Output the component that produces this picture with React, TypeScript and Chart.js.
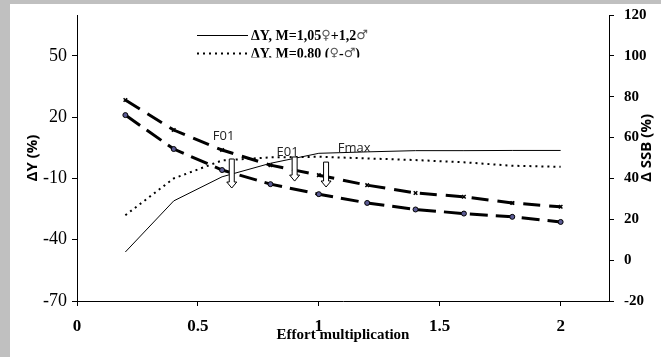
import React, { useEffect, useRef } from "react";
import { Chart, registerables } from "chart.js";

Chart.register(...registerables);

// ---- data ----
const effort = [0.2, 0.4, 0.6, 0.8, 1.0, 1.2, 1.4, 1.6, 1.8, 2.0];
const dY_M105 = [-46, -21, -9.2, -2.6, 2.3, 3.0, 3.6, 3.6, 3.7, 3.7];
const dY_M080 = [-28, -10, -1.2, 0.3, 0.6, -0.2, -1.0, -2.1, -3.8, -4.3];
const dSSB_circle = [71, 54.4, 44.1, 37.2, 32.3, 28, 24.8, 22.8, 21.2, 18.7];
const dSSB_cross = [78.4, 63.7, 53.9, 46.5, 41.6, 36.7, 32.9, 31, 28, 26.1];

const xTicks = [0, 0.5, 1, 1.5, 2];
const leftTicks = [-70, -40, -10, 20, 50];
const rightTicks = [-20, 0, 20, 40, 60, 80, 100, 120];

const legendLabels = ["ΔY, M=1,05♀+1,2♂", "ΔY, M=0.80 (♀-♂)"];
const rightAxisTitle = "Δ SSB (%)";

const refLabels = ["F01", "E01", "Fmax"];
const refLabelX = [0.606, 0.871, 1.146];
const refLabelY = [10.4, 2.6, 4.7];

const arrowX = [0.64, 0.9, 1.03];
const arrowTop = [-0.5, 0.5, -2];
const arrowBottom = [-14.7, -11.3, -14.2];

const pts = (ys: number[]) => effort.map((x, i) => ({ x, y: ys[i] }));

const SERIF = "'Liberation Serif', 'Times New Roman', serif";
const SANS = "'Open Sans', 'DejaVu Sans', sans-serif";

const annotationPlugin = {
  id: "annotations",
  afterDatasetsDraw(chart: any) {
    const ctx = chart.ctx;
    const xs = chart.scales.x;
    const ys = chart.scales.y;
    ctx.save();
    for (let i = 0; i < arrowX.length; i++) {
      const cx = xs.getPixelForValue(arrowX[i]);
      const top = ys.getPixelForValue(arrowTop[i]);
      const bot = ys.getPixelForValue(arrowBottom[i]);
      const sw = 2.5;
      const hw = 5;
      const hl = 6;
      ctx.beginPath();
      ctx.moveTo(cx - sw, top);
      ctx.lineTo(cx + sw, top);
      ctx.lineTo(cx + sw, bot - hl);
      ctx.lineTo(cx + hw, bot - hl);
      ctx.lineTo(cx, bot);
      ctx.lineTo(cx - hw, bot - hl);
      ctx.lineTo(cx - sw, bot - hl);
      ctx.closePath();
      ctx.fillStyle = "#fff";
      ctx.fill();
      ctx.lineWidth = 1;
      ctx.strokeStyle = "#000";
      ctx.setLineDash([]);
      ctx.stroke();
    }
    ctx.font = `13px ${SANS}`;
    ctx.fillStyle = "#222";
    ctx.textAlign = "center";
    ctx.textBaseline = "middle";
    for (let i = 0; i < refLabels.length; i++) {
      ctx.fillText(
        refLabels[i],
        xs.getPixelForValue(refLabelX[i]),
        ys.getPixelForValue(refLabelY[i])
      );
    }
    ctx.restore();
  },
  afterDraw(chart: any) {
    const ctx = chart.ctx;
    const area = chart.chartArea;
    // right axis title, reading bottom-to-top
    ctx.save();
    ctx.translate(chart.width - 14, (area.top + area.bottom) / 2 - 10);
    ctx.rotate(-Math.PI / 2);
    ctx.font = `bold 15px ${SANS}`;
    ctx.fillStyle = "#000";
    ctx.textAlign = "center";
    ctx.textBaseline = "middle";
    ctx.fillText(rightAxisTitle, 0, 0);
    ctx.restore();

    // legend
    ctx.save();
    ctx.beginPath();
    ctx.rect(0, 0, chart.width, 53.5);
    ctx.clip();
    const rows = [
      { y: 31.5, ds: chart.data.datasets[0] },
      { y: 49.5, ds: chart.data.datasets[1] },
    ];
    rows.forEach((r, i) => {
      ctx.beginPath();
      ctx.setLineDash(r.ds.borderDash || []);
      ctx.lineWidth = r.ds.borderWidth;
      ctx.strokeStyle = r.ds.borderColor;
      ctx.moveTo(187, r.y);
      ctx.lineTo(238, r.y);
      ctx.stroke();
      ctx.setLineDash([]);
      let x = 241;
      ctx.textBaseline = "middle";
      ctx.textAlign = "left";
      const parts = legendLabels[i].split(/([♀♂])/).filter((p) => p.length);
      for (const p of parts) {
        const sym = p === "♀" || p === "♂";
        ctx.font = sym ? `13px 'DejaVu Sans', sans-serif` : `bold 14px ${SERIF}`;
        ctx.fillStyle = sym ? "#555" : "#000";
        ctx.fillText(p, x, r.y + 0.5);
        x += ctx.measureText(p).width;
      }
    });
    ctx.restore();
  },
};

const noVerticalPadding = (s: any) => {
  s.paddingTop = 0;
  s.paddingBottom = 0;
};

export default function App() {
  const ref = useRef<HTMLCanvasElement | null>(null);
  useEffect(() => {
    if (!ref.current) return;
    Chart.defaults.font.family = SERIF;
    const chart = new Chart(ref.current, {
      type: "line",
      data: {
        datasets: [
          {
            label: legendLabels[0],
            data: pts(dY_M105),
            yAxisID: "y",
            borderColor: "#000",
            borderWidth: 1,
            pointRadius: 0,
            fill: false,
            tension: 0,
          },
          {
            label: legendLabels[1],
            data: pts(dY_M080),
            yAxisID: "y",
            borderColor: "#000",
            borderWidth: 2,
            borderDash: [2, 4],
            pointRadius: 0,
            fill: false,
            tension: 0,
          },
          {
            label: "ΔSSB 1",
            data: pts(dSSB_circle),
            yAxisID: "y1",
            borderColor: "#000",
            borderWidth: 3,
            borderDash: [18, 8],
            pointStyle: "circle",
            pointRadius: 2.5,
            pointBorderWidth: 1,
            pointBorderColor: "#000",
            pointBackgroundColor: "#5b5b94",
            fill: false,
            tension: 0,
          },
          {
            label: "ΔSSB 2",
            data: pts(dSSB_cross),
            yAxisID: "y1",
            borderColor: "#000",
            borderWidth: 3,
            borderDash: [17, 9],
            pointStyle: "crossRot",
            pointRadius: 2.5,
            pointBorderWidth: 1.5,
            pointBorderColor: "#000",
            fill: false,
            tension: 0,
          },
        ],
      },
      options: {
        animation: false,
        responsive: false,
        layout: { padding: { top: 11, left: 0, right: 0, bottom: 0 } },
        plugins: { legend: { display: false }, tooltip: { enabled: false } },
        scales: {
          x: {
            type: "linear",
            min: 0,
            max: 2.2,
            afterBuildTicks: (s: any) => {
              s.ticks = xTicks.map((v) => ({ value: v }));
            },
            afterFit: (s: any) => {
              s.height = 56;
            },
            grid: { drawOnChartArea: false, drawTicks: true, tickLength: 5, color: "#000" },
            border: { display: true, color: "#000", width: 1 },
            ticks: {
              color: "#000",
              padding: 10,
              maxRotation: 0,
              font: { family: SERIF, size: 17, weight: "bold" },
              callback: (v: any) => String(v),
            },
            title: {
              display: true,
              text: "Effort multiplication",
              color: "#000",
              font: { family: SERIF, size: 15, weight: "bold" },
              padding: { top: 0, bottom: 13 },
            },
          },
          y: {
            type: "linear",
            position: "left",
            min: -70,
            max: 70,
            afterBuildTicks: (s: any) => {
              s.ticks = leftTicks.map((v) => ({ value: v }));
            },
            afterFit: (s: any) => {
              s.width = 67;
              noVerticalPadding(s);
            },
            grid: { drawOnChartArea: false, drawTicks: true, tickLength: 5, color: "#000" },
            border: { display: true, color: "#000", width: 1 },
            ticks: {
              color: "#000",
              padding: 5,
              font: { family: SERIF, size: 18 },
              callback: (v: any) => String(v),
            },
            title: {
              display: true,
              text: "ΔY (%)",
              color: "#000",
              font: { family: SANS, size: 15, weight: "bold" },
              padding: { top: 14, bottom: 0 },
            },
          },
          y1: {
            type: "linear",
            position: "right",
            min: -20,
            max: 120,
            afterBuildTicks: (s: any) => {
              s.ticks = rightTicks.map((v) => ({ value: v }));
            },
            afterFit: (s: any) => {
              s.width = 52;
              noVerticalPadding(s);
            },
            grid: { drawOnChartArea: false, drawTicks: true, tickLength: 5, color: "#000" },
            border: { display: true, color: "#000", width: 1 },
            ticks: {
              color: "#000",
              padding: 10,
              font: { family: SERIF, size: 15, weight: "bold" },
              callback: (v: any) => String(v),
            },
            title: { display: false },
          },
        },
      } as any,
      plugins: [annotationPlugin],
    });
    return () => chart.destroy();
  }, []);

  return (
    <div
      style={{
        position: "fixed",
        left: 0,
        top: 0,
        width: 661,
        height: 357,
        background: "#c0c0c0",
        overflow: "hidden",
      }}
    >
      <div
        style={{
          position: "absolute",
          left: 10,
          top: 4,
          width: 651,
          height: 353,
          background: "#fff",
        }}
      >
        <canvas ref={ref} width={651} height={353} />
      </div>
    </div>
  );
}
